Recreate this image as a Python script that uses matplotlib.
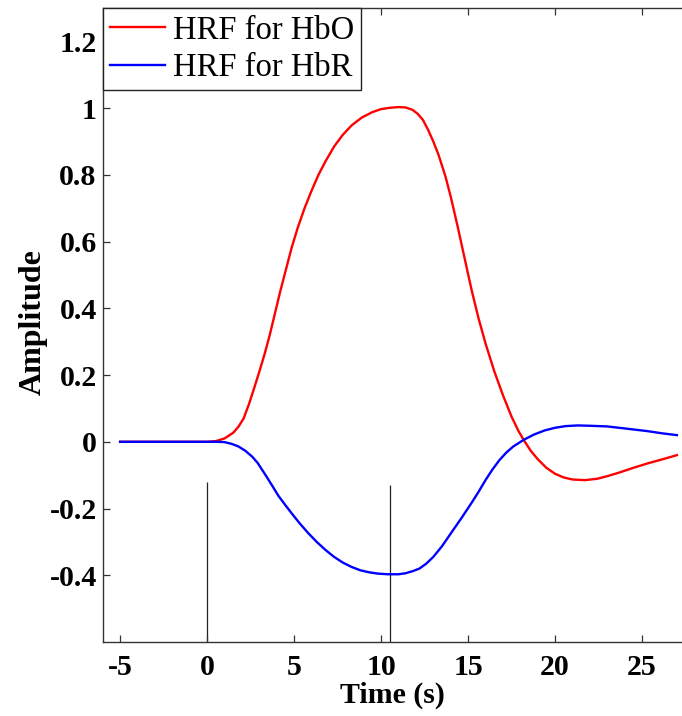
import matplotlib
matplotlib.use("Agg")
import matplotlib.pyplot as plt

# ---- data ----
t_hbo = [-5, 0, 0.5, 1.0, 1.5, 1.8, 2.1, 2.4, 2.7, 3.0, 3.3, 3.6, 3.9, 4.2, 4.5,
         4.85, 5.2, 5.6, 6.0, 6.4, 6.8, 7.3, 7.8, 8.3, 8.9, 9.5, 10.0, 10.5, 11.0,
         11.4, 11.8, 12.1, 12.4, 12.7, 13.0, 13.3, 13.7, 14.0, 14.4, 14.8, 15.2,
         15.6, 16.0, 16.5, 17.0, 17.5, 17.9, 18.2, 18.6, 19.0, 19.5, 20.0, 20.5,
         21.0, 21.7, 22.4, 23.0, 23.7, 24.5, 25.3, 26.2, 27.0]
hrf_hbo = [0, 0, 0.002, 0.01, 0.027, 0.045, 0.07, 0.112, 0.16, 0.21, 0.262, 0.32,
           0.385, 0.45, 0.51, 0.58, 0.64, 0.70, 0.752, 0.80, 0.84, 0.885, 0.92,
           0.948, 0.972, 0.988, 0.997, 1.001, 1.003, 1.002, 0.995, 0.983, 0.965,
           0.935, 0.90, 0.86, 0.795, 0.735, 0.645, 0.55, 0.455, 0.37, 0.295, 0.212,
           0.14, 0.075, 0.032, 0.005, -0.027, -0.052, -0.078, -0.096, -0.107,
           -0.113, -0.115, -0.111, -0.103, -0.092, -0.078, -0.065, -0.052, -0.04]

t_hbr = [-5, 0, 0.5, 1.0, 1.4, 1.8, 2.2, 2.6, 2.9, 3.3, 3.7, 4.1, 4.5, 4.9, 5.3,
         5.8, 6.3, 6.8, 7.3, 7.8, 8.3, 8.8, 9.3, 9.8, 10.4, 11.0, 11.4, 11.8, 12.2,
         12.6, 13.0, 13.5, 14.0, 14.6, 15.2, 15.6, 16.0, 16.4, 16.8, 17.2, 17.6,
         18.2, 18.8, 19.4, 20.0, 20.6, 21.3, 22.0, 23.0, 24.0, 25.3, 26.2, 27.0]
hrf_hbr = [0, 0, 0, -0.001, -0.006, -0.014, -0.027, -0.045, -0.063, -0.095,
           -0.128, -0.162, -0.19, -0.217, -0.243, -0.273, -0.30, -0.324, -0.345,
           -0.362, -0.375, -0.385, -0.391, -0.395, -0.397, -0.397, -0.394, -0.388,
           -0.38, -0.365, -0.345, -0.313, -0.275, -0.23, -0.183, -0.15, -0.115,
           -0.083, -0.055, -0.032, -0.014, 0.006, 0.022, 0.034, 0.042, 0.047,
           0.049, 0.048, 0.046, 0.04, 0.032, 0.025, 0.02]

marker_times = [0, 10.5]
marker_top = [-0.12, -0.128]

labels = ["HRF for HbO", "HRF for HbR"]
xticks = [-5, 0, 5, 10, 15, 20, 25]
xticklabels = ["-5", "0", "5", "10", "15", "20", "25"]
yticks = [-0.4, -0.2, 0, 0.2, 0.4, 0.6, 0.8, 1.0, 1.2]
yticklabels = ["-0.4", "-0.2", "0", "0.2", "0.4", "0.6", "0.8", "1", "1.2"]

plt.rcParams['font.family'] = ['Liberation Serif', 'DejaVu Serif']

fig = plt.figure(figsize=(6.82, 7.16), dpi=100)
ax = fig.add_axes([102.7 / 682, 74 / 716, (682 - 102.7) / 682, 634 / 716])

ymin, ymax = -0.6, 1.3
for xm, yt in zip(marker_times, marker_top):
    ax.vlines(xm, ymin, yt, color='#222222', lw=0.9, zorder=1)

ax.plot(t_hbo, hrf_hbo, color='#ff0000', lw=1.7, label=labels[0], zorder=3)
ax.plot(t_hbr, hrf_hbr, color='#0000ff', lw=1.7, label=labels[1], zorder=4)

ax.set_xlim(-6, -6 + (682 - 102.7) / 17.4)
ax.set_ylim(ymin, ymax)

ax.set_xticks(xticks)
ax.set_xticklabels(xticklabels, fontsize=21.5, fontweight='bold')
ax.set_yticks(yticks)
ax.set_yticklabels(yticklabels, fontsize=21.5, fontweight='bold')
ax.tick_params(direction='in', length=5, width=0.9, top=True, right=False,
               color='#333333')
ax.tick_params(axis='x', pad=8.5)
ax.tick_params(axis='y', pad=4.3)

ax.spines['right'].set_visible(False)
for s in ['left', 'bottom', 'top']:
    ax.spines[s].set_linewidth(1.0)
    ax.spines[s].set_color('#333333')

ax.set_xlabel('Time (s)', fontsize=21.5, fontweight='bold', labelpad=0.5)
ax.set_ylabel('Amplitude', fontsize=23, fontweight='bold')
ax.yaxis.set_label_coords(-0.095, 0.505)

leg = ax.legend(loc='upper left', bbox_to_anchor=(0, 1), borderaxespad=0,
                fancybox=False, framealpha=1, edgecolor='#222222',
                prop={'size': 23.5}, handlelength=1.7, handletextpad=0.22,
                labelspacing=0.21, borderpad=0.22)
leg.get_frame().set_linewidth(1.0)

fig.savefig('out.png', dpi=100)
